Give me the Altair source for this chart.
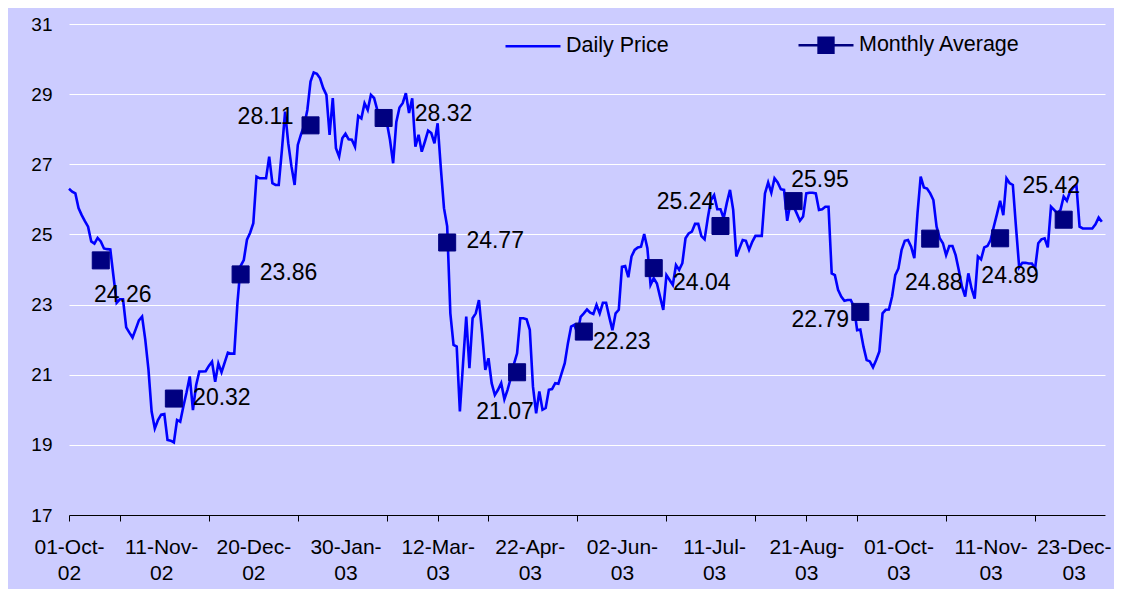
import json
import altair as alt
import pandas as pd

FONT = "Liberation Sans"

# ---- daily prices (one value per trading day) ----
OCT_02 = [26.30, 26.22, 26.17, 25.75, 25.55, 25.38, 25.22, 24.80, 24.74, 24.90, 24.80, 24.60,
          24.58, 24.57, 23.80, 23.05, 23.15, 23.15, 22.35, 22.20, 22.06, 22.30, 22.55]
NOV_02 = [22.66, 22.00, 21.15, 19.95, 19.47, 19.71, 19.86, 19.88, 19.14, 19.12, 19.07, 19.71,
          19.66, 20.10, 20.50, 20.95, 19.99, 20.70, 21.09, 21.09, 21.10]
DEC_02 = [21.25, 21.37, 20.80, 21.32, 21.07, 21.35, 21.63, 21.60, 21.60, 23.04, 24.10, 24.27,
          24.85, 25.05, 25.32, 26.65, 26.60, 26.60, 26.60, 27.22, 26.46, 26.41]
JAN_03 = [26.41, 27.41, 28.50, 27.60, 26.94, 26.41, 27.55, 27.85, 28.10, 28.55, 29.36, 29.62,
          29.58, 29.45, 29.17, 28.98, 27.84, 28.89, 27.46, 27.22, 27.74, 27.87, 27.71]
FEB_03 = [27.70, 27.50, 28.38, 28.31, 28.74, 28.55, 28.98, 28.89, 28.55, 28.45, 28.35, 28.20,
          27.70, 27.03, 28.21, 28.62, 28.74, 29.03, 28.46, 28.88]
MAR_03 = [27.50, 27.84, 27.36, 27.65, 27.96, 27.89, 27.60, 28.17, 26.90, 25.75, 25.23, 22.75,
          21.85, 21.80, 19.95, 21.33, 22.66, 21.19, 22.61, 22.75, 23.13]
APR_03 = [22.18, 21.14, 21.47, 20.76, 20.42, 20.57, 20.76, 20.30, 20.57, 20.90, 21.30, 21.61,
          22.61, 22.61, 22.58, 22.28, 20.66, 19.90, 20.52, 20.00, 20.05, 20.57]
MAY_03 = [20.59, 20.76, 20.74, 21.04, 21.33, 21.90, 22.37, 22.42, 22.18, 22.65, 22.75, 22.86,
          22.77, 22.73, 22.99, 22.75, 23.05, 23.05, 22.65, 22.27, 22.75, 22.85]
JUN_03 = [24.08, 24.10, 23.78, 24.37, 24.56, 24.63, 24.65, 25.01, 24.61, 23.56, 23.75, 23.60,
          23.22, 22.85, 23.84, 23.70, 23.56, 24.13, 23.99, 24.18, 24.89]
JUL_03 = [25.03, 25.08, 25.30, 25.30, 24.95, 24.86, 25.46, 25.98, 26.12, 25.72, 25.72, 25.46,
          25.90, 26.27, 25.70, 24.37, 24.61, 24.84, 24.82, 24.56, 24.79, 24.96, 24.96]
AUG_03 = [24.96, 26.17, 26.48, 26.19, 26.60, 26.48, 26.29, 26.27, 25.39, 25.89, 25.80, 25.60,
          25.39, 25.51, 26.17, 26.19, 26.19, 26.17, 25.70, 25.72, 25.79]
SEP_03 = [25.79, 23.89, 23.84, 23.42, 23.23, 23.11, 23.13, 23.13, 22.94, 22.27, 22.29, 21.80,
          21.42, 21.38, 21.21, 21.42, 21.66, 22.75, 22.85, 22.86, 23.23, 23.84]
OCT_03 = [24.03, 24.56, 24.82, 24.84, 24.65, 24.32, 25.60, 26.65, 26.34, 26.31, 26.17, 25.98,
          25.22, 24.89, 24.75, 24.41, 24.67, 24.67, 24.41, 23.98, 23.51, 23.23, 23.89]
NOV_03 = [23.46, 23.17, 24.37, 24.29, 24.63, 24.67, 24.84, 25.22, 25.58, 25.96, 25.55, 26.60,
          26.46, 26.41, 25.20, 24.06, 24.19, 24.19, 24.17]
DEC_03 = [24.17, 24.03, 24.75, 24.86, 24.89, 24.63, 25.79, 25.70, 25.60, 25.70, 26.08, 25.96,
          26.22, 26.34, 26.41, 25.22, 25.17, 25.17, 25.17, 25.17, 25.29, 25.48, 25.36]

FIRST_DAY = "2002-10-01"
LAST_DAY = "2003-12-31"
MISSING_DAYS = ["2003-11-27"]

# ---- monthly averages ----
MONTHLY_DATES = ["2002-10-15", "2002-11-15", "2002-12-16", "2003-01-15", "2003-02-17",
                 "2003-03-17", "2003-04-16", "2003-05-15", "2003-06-16", "2003-07-15",
                 "2003-08-15", "2003-09-15", "2003-10-15", "2003-11-14", "2003-12-15"]
MONTHLY_AVG = [24.26, 20.32, 23.86, 28.11, 28.32, 24.77, 21.07, 22.23, 24.04, 25.24,
               25.95, 22.79, 24.88, 24.89, 25.42]

# ---- category axis labels ----
TICK_LABEL_DATES = ["2002-10-01", "2002-11-11", "2002-12-20", "2003-01-30", "2003-03-12",
                    "2003-04-22", "2003-06-02", "2003-07-11", "2003-08-21", "2003-10-01",
                    "2003-11-11", "2003-12-23"]
TICK_LABELS = ["01-Oct-02", "11-Nov-02", "20-Dec-02", "30-Jan-03", "12-Mar-03", "22-Apr-03",
               "02-Jun-03", "11-Jul-03", "21-Aug-03", "01-Oct-03", "11-Nov-03", "23-Dec-03"]
Y_TICKS = [17, 19, 21, 23, 25, 27, 29, 31]
SERIES = ["Daily Price", "Monthly Average"]

# ---- styles (label placement offsets in px, per monthly point) ----
LABEL_OFFSETS = [(22, 35), (48, -1), (48, -1), (-45, -8), (60, -3.5), (48, -1), (-12, 40),
                 (38, 10), (48, 15), (-35, -24.5), (26.5, -21), (-40, 8), (3.5, 44.5),
                 (10, 38), (-12.5, -34)]

prices = (OCT_02 + NOV_02 + DEC_02 + JAN_03 + FEB_03 + MAR_03 + APR_03 + MAY_03 + JUN_03
          + JUL_03 + AUG_03 + SEP_03 + OCT_03 + NOV_03 + DEC_03)
days = pd.bdate_range(FIRST_DAY, LAST_DAY)
days = days[~days.isin(pd.to_datetime(MISSING_DAYS))]
assert len(days) == len(prices), (len(days), len(prices))
day_str = [d.strftime("%Y-%m-%d") for d in days]
pos = {d: i for i, d in enumerate(day_str)}
N = len(days)

daily = pd.DataFrame({"idx": list(range(N)), "date": day_str, "price": prices})
monthly = pd.DataFrame({
    "idx": [pos[d] for d in MONTHLY_DATES],
    "date": MONTHLY_DATES,
    "avg": MONTHLY_AVG,
    "label": [f"{v:.2f}" for v in MONTHLY_AVG],
    "series": "Monthly Average",
})

label_pos = [pos[d] for d in TICK_LABEL_DATES]
tick_pos = list(range(0, N, 4))
axis_values = sorted(set(tick_pos) | set(label_pos))
parts = [[s[:-2], s[-2:]] for s in TICK_LABELS]
label_expr = (f"indexof({json.dumps(label_pos)}, datum.value) >= 0 ? "
              f"{json.dumps(parts)}[indexof({json.dumps(label_pos)}, datum.value)] : ''")
tick_test = f"indexof({json.dumps(tick_pos)}, datum.value) >= 0"
last_label_test = f"datum.value == {label_pos[-1]}"

x_scale = alt.Scale(domain=[0, N], nice=False, zero=False)
y_scale = alt.Scale(domain=[17, 31], nice=False, zero=False)

x_axis = alt.Axis(values=axis_values, labelExpr=label_expr, grid=False,
                  domainColor="#000000", domainWidth=1, tickColor="#000000", tickWidth=1,
                  tickSize=6, tickRound=True,
                  tickOpacity={"condition": {"test": tick_test, "value": 1}, "value": 0},
                  labelOffset={"condition": {"test": last_label_test, "value": -9}, "value": 0},
                  labelFont=FONT, labelFontSize=21, labelColor="#000000", labelPadding=15,
                  labelLineHeight=26.5, labelFlush=False, labelOverlap=False, labelBound=False,
                  labelAngle=0, labelAlign="center", labelBaseline="top")
y_axis = alt.Axis(values=Y_TICKS, grid=True, gridColor="#FFFFFF", gridWidth=1, gridOpacity=1,
                  domain=False, ticks=False, tickSize=0, labelFont=FONT, labelFontSize=19,
                  labelColor="#000000", labelPadding=17, format="d")

X = alt.X("idx:Q", scale=x_scale, axis=x_axis, title=None)

line = alt.Chart(daily).mark_line(color="#0000FF", strokeWidth=2.6).encode(
    x=X, y=alt.Y("price:Q", scale=y_scale, axis=y_axis, title=None))

points = alt.Chart(monthly).mark_point(shape="square", filled=True, size=290, opacity=1,
                                       color="#000080", stroke="#000080", strokeWidth=1).encode(
    x="idx:Q", y="avg:Q")

text_layers = []
for d, (dx, dy) in zip(MONTHLY_DATES, LABEL_OFFSETS):
    text_layers.append(
        alt.Chart(monthly).transform_filter(alt.datum.date == d)
        .mark_text(font=FONT, fontSize=23, color="#000000", dx=dx, dy=dy,
                   align="center", baseline="middle")
        .encode(x="idx:Q", y="avg:Q", text="label:N"))

legend = alt.Legend(title=None, orient="none", legendX=435, legendY=-8, direction="horizontal",
                    symbolSize=3025, symbolStrokeWidth=2.5, symbolOpacity=1,
                    labelFont=FONT, labelFontSize=21.5, labelColor="#000000", labelOffset=4,
                    labelLimit=400, columnPadding=124, padding=0)
sym_paths = ["M-1,0H1", "M-1,0H1M-0.27,-0.27H0.27V0.27H-0.27Z"]
colors = ["#0000FF", "#000080"]
legend_layer = alt.Chart(monthly).transform_filter("false").mark_point(
    filled=True, opacity=1).encode(
    x="idx:Q", y="avg:Q",
    shape=alt.Shape("series:N", scale=alt.Scale(domain=SERIES, range=sym_paths), legend=legend),
    fill=alt.Fill("series:N", scale=alt.Scale(domain=SERIES, range=colors), legend=legend),
    stroke=alt.Stroke("series:N", scale=alt.Scale(domain=SERIES, range=colors), legend=legend),
)

chart = alt.layer(line, points, *text_layers, legend_layer).properties(
    width=1036, height=491,
    padding={"left": 61, "top": 16, "right": 9, "bottom": 74},
    autosize=alt.AutoSizeParams(type="none"),
).configure(background="#CCCCFF").configure_view(strokeWidth=0, fill="#CCCCFF")

chart.save("out.html", embed_options={"renderer": "svg", "actions": False})
